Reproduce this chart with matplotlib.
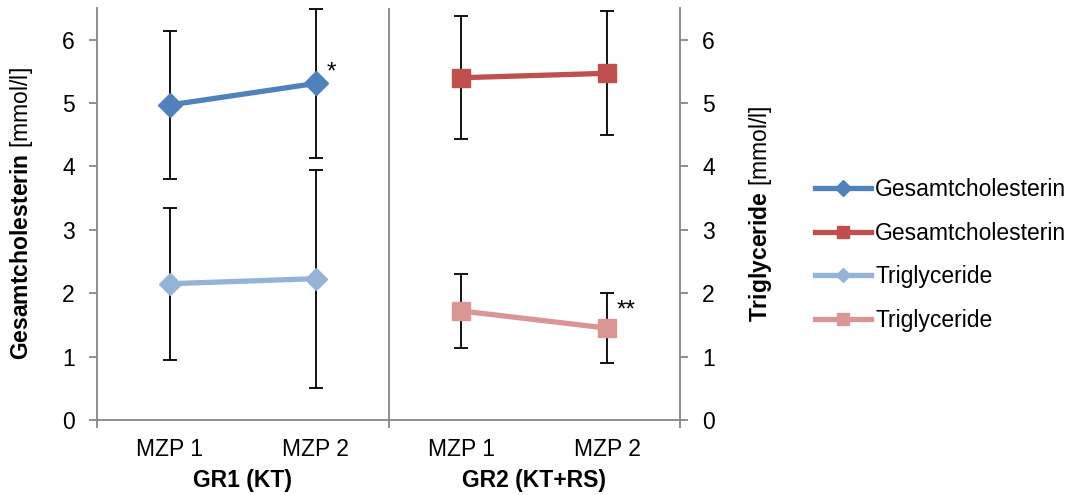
import matplotlib
matplotlib.use("Agg")
import matplotlib.pyplot as plt
import numpy as np

plt.rcParams['font.family'] = ['Liberation Sans', 'DejaVu Sans']
plt.rcParams['mathtext.fontset'] = 'custom'
plt.rcParams['mathtext.rm'] = 'Liberation Sans'
plt.rcParams['mathtext.bf'] = 'Liberation Sans:bold'

# ---- data ----
timepoints = ['MZP 1', 'MZP 2']
groups = ['GR1 (KT)', 'GR2 (KT+RS)']
y_ticks = [0, 1, 2, 3, 4, 5, 6]

gc_gr1 = [4.97, 5.31]
gc_gr1_err = [1.17, 1.17]
tg_gr1 = [2.15, 2.23]
tg_gr1_err = [1.20, 1.72]
gc_gr2 = [5.40, 5.47]
gc_gr2_err = [0.97, 0.98]
tg_gr2 = [1.72, 1.45]
tg_gr2_err = [0.59, 0.55]

legend_labels = ['Gesamtcholesterin', 'Gesamtcholesterin', 'Triglyceride', 'Triglyceride']

FS = 16.5
grey = '#868686'
c_blue = '#4F81BD'
c_red = '#C0504D'
c_lblue = '#95B3D7'
c_pink = '#D99694'

W, H = 1076, 495
fig = plt.figure(figsize=(W / 100, H / 100), dpi=100)
ax = fig.add_axes([97 / W, 1 - 420 / H, (680 - 97) / W, (420 - 8) / H])

x1 = np.arange(2)
x2 = np.arange(2) + 2

# error bars first
for x, y, e in [(x1, gc_gr1, gc_gr1_err), (x1, tg_gr1, tg_gr1_err),
                (x2, gc_gr2, gc_gr2_err), (x2, tg_gr2, tg_gr2_err)]:
    ax.errorbar(x, y, yerr=e, fmt='none', ecolor='black', elinewidth=1.3,
                capsize=5, capthick=1.3, zorder=2)

l1, = ax.plot(x1, gc_gr1, color=c_blue, lw=3.8, marker='D', ms=12, zorder=3)
l2, = ax.plot(x2, gc_gr2, color=c_red, lw=3.8, marker='s', ms=13, zorder=3)
l3, = ax.plot(x1, tg_gr1, color=c_lblue, lw=3.8, marker='D', ms=11, zorder=3)
l4, = ax.plot(x2, tg_gr2, color=c_pink, lw=3.8, marker='s', ms=13, zorder=3)

ax.set_xlim(-0.5, 3.5)
ax.set_ylim(0, 6.5)
ax.axvline(1.5, color=grey, lw=1.3, zorder=1)

ax.spines['top'].set_visible(False)
for s in ['left', 'right', 'bottom']:
    ax.spines[s].set_color(grey)
    ax.spines[s].set_linewidth(1.3)

ax.set_yticks(y_ticks)
ax.set_yticklabels([str(t) for t in y_ticks])
ax.tick_params(axis='y', which='both', left=True, right=True, labelleft=True,
               labelright=True, direction='out', length=6, width=1.3,
               color=grey, labelsize=FS, pad=10)

ax.set_xticks([0, 1, 2, 3])
ax.set_xticklabels(timepoints + timepoints)
ax.set_xticks([-0.5, 1.5, 3.5], minor=True)
ax.tick_params(axis='x', which='major', length=0, labelsize=FS, pad=13)
ax.tick_params(axis='x', which='minor', length=6, width=1.3, color=grey, direction='out')

# group labels, centred under each pair of timepoints
for gi, g in enumerate(groups):
    ax.annotate(g, xy=(0.5 + 2 * gi, 0), xycoords=('data', 'axes fraction'),
                xytext=(0, -60 * 0.72), textcoords='offset points',
                ha='center', va='center', fontsize=FS, fontweight='bold',
                annotation_clip=False)

# annotations
ax.annotate('*', xy=(1, gc_gr1[1]), xytext=(11, 8), textcoords='offset points',
            ha='center', va='center', fontsize=FS + 1)
ax.annotate('**', xy=(3, tg_gr2[1]), xytext=(14, 13), textcoords='offset points',
            ha='center', va='center', fontsize=FS + 1)

# y labels
fig.text(22 / W, 1 - 214 / H, r'$\bf{Gesamtcholesterin}$ [mmol/l]', rotation=90,
         ha='center', va='center', fontsize=FS)
fig.text(760 / W, 1 - 214 / H, r'$\bf{Triglyceride}$ [mmol/l]', rotation=90,
         ha='center', va='center', fontsize=FS)

# legend
leg = fig.legend([l1, l2, l3, l4], legend_labels, loc='center left',
                 bbox_to_anchor=(794 / W, 1 - 255 / H), frameon=False,
                 fontsize=FS, handlelength=2.45, handletextpad=0.2,
                 labelspacing=0.9, markerscale=0.65)

fig.savefig('out.png', dpi=100)
